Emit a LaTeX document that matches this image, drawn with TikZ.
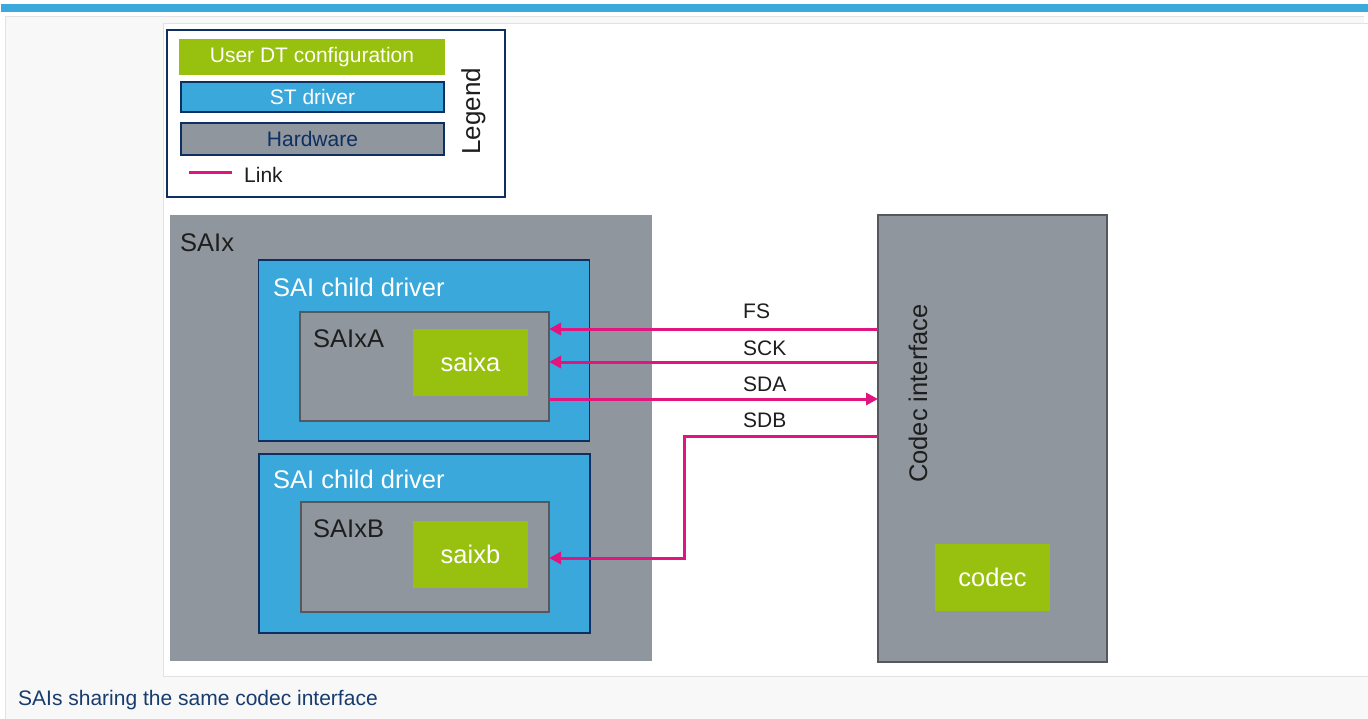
\documentclass[tikz,border=0pt]{standalone}
\usepackage{fontspec}
\setmainfont{Liberation Sans}
\usetikzlibrary{arrows.meta}
\definecolor{barblue}{HTML}{3BA9DC}
\definecolor{stblue}{HTML}{3AA8DB}
\definecolor{hwgray}{HTML}{8F969E}
\definecolor{dtgreen}{HTML}{98C00E}
\definecolor{linkmag}{HTML}{E0157F}
\definecolor{navy}{HTML}{0E2F62}
\definecolor{darkgr}{HTML}{55595E}
\definecolor{pagebg}{HTML}{F8F8F8}
\definecolor{framegr}{HTML}{E2E2E2}
\definecolor{captc}{HTML}{183C6E}
\definecolor{txtdark}{HTML}{1E1E1E}
\tikzset{
  box/.style={rectangle, inner sep=0pt, outer sep=0pt},
  hwbox/.style={box, fill=hwgray, draw=darkgr, line width=1.5pt},
  drvbox/.style={box, fill=stblue, draw=navy, line width=1.5pt},
  dtbox/.style={box, fill=dtgreen},
  wtext/.style={inner sep=0pt, text=white, font=\fontsize{25.5}{30}\selectfont},
  dtext/.style={inner sep=0pt, text=txtdark, font=\fontsize{25.5}{30}\selectfont},
  sigtext/.style={inner sep=0pt, anchor=base west, text=txtdark, font=\fontsize{21}{25}\selectfont},
  legtext/.style={inner sep=0pt, font=\fontsize{21}{25}\selectfont},
  link/.style={draw=linkmag, line width=3pt},
  linkarrow/.style={link, -{Triangle[length=12pt,width=12pt]}},
}
\begin{document}
\begin{tikzpicture}[x=1pt,y=-1pt]
\useasboundingbox (0,0) rectangle (1368,719);
\fill[white] (0,0) rectangle (1368,719);
% page frame
\draw[fill=pagebg, draw=framegr, line width=1pt] (5,17) rectangle (1380,730);
\fill[white] (1363.5,12) rectangle (1368,23);
\fill[barblue] (1,4) rectangle (1368,12);
% white panel
\draw[fill=white, draw=framegr, line width=1pt] (163,24) rectangle (1380,676);

% legend
\node[box, draw=navy, line width=2.5pt, fill=white, minimum width=338pt, minimum height=167pt] (legend) at (336,113.5) {};
\node[dtbox, minimum width=266pt, minimum height=36pt] (legdt) at (312,57) {};
\node[legtext, text=white] (legdtt) at (legdt) {User DT configuration};
\node[drvbox, minimum width=263pt, minimum height=30pt] (legst) at (312.5,97) {};
\node[legtext, text=white] (legstt) at (legst) {ST driver};
\node[hwbox, draw=navy, minimum width=263pt, minimum height=32pt] (leghw) at (312.5,139) {};
\node[legtext, text=navy] (leghwt) at (leghw) {Hardware};
\coordinate (lk1) at (189,173);
\coordinate (lk2) at (232,173);
\draw[link] (lk1) -- (lk2);
\node[legtext, anchor=base west, text=txtdark] (linkt) at (244,183) {Link};
\node[inner sep=0pt, rotate=90, anchor=base west, text=txtdark, font=\fontsize{26}{30}\selectfont] (legt) at (480,155) {Legend};

% SAIx
\node[box, fill=hwgray, minimum width=482pt, minimum height=446pt] (saix) at (411,438) {};
\node[dtext, anchor=base west] (saixt) at (180,252) {SAIx};

% child driver A
\node[drvbox, minimum width=331pt, minimum height=181pt] (drvA) at (424,350.5) {};
\node[wtext, anchor=base west] (drvAt) at (273,297) {SAI child driver};
\node[hwbox, minimum width=249pt, minimum height=109pt] (saiA) at (424.5,366.5) {};
\node[dtext, anchor=base west] (saiAt) at (313,347) {SAIxA};
\node[dtbox, minimum width=115pt, minimum height=67pt] (saixa) at (470.5,362.5) {};
\node[wtext] (saixat) at (saixa) {saixa};

% child driver B
\node[drvbox, minimum width=331pt, minimum height=179pt] (drvB) at (424.5,543.5) {};
\node[wtext, anchor=base west] (drvBt) at (273,488) {SAI child driver};
\node[hwbox, minimum width=248pt, minimum height=110pt] (saiB) at (425,557) {};
\node[dtext, anchor=base west] (saiBt) at (313,537) {SAIxB};
\node[dtbox, minimum width=115pt, minimum height=67pt] (saixb) at (470.5,554.5) {};
\node[wtext] (saixbt) at (saixb) {saixb};

% codec
\node[hwbox, line width=2pt, minimum width=229pt, minimum height=447pt] (codec) at (992.5,438.5) {};
\node[dtext, rotate=90, anchor=base west] (codect) at (927,483) {Codec interface};
\node[dtbox, minimum width=115pt, minimum height=67pt] (codecg) at (992.5,577.5) {};
\node[wtext] (codecgt) at (codecg) {codec};

% signal levels
\coordinate (yFS) at (0,329);
\coordinate (ySCK) at (0,362);
\coordinate (ySDA) at (0,399);
\coordinate (ySDB) at (0,436);
\coordinate (ySDBb) at (0,558);
\coordinate (xSDB) at (684,0);

\draw[linkarrow] (codec.west |- yFS) -- (saiA.east |- yFS);
\draw[linkarrow] (codec.west |- ySCK) -- (saiA.east |- ySCK);
\draw[linkarrow] (saiA.east |- ySDA) -- (codec.west |- ySDA);
\draw[linkarrow] (codec.west |- ySDB) -- (xSDB |- ySDB) -- (xSDB |- ySDBb) -- (saiB.east |- ySDBb);

\node[sigtext] (fst) at (743,319) {FS};
\node[sigtext] (sckt) at (743,355) {SCK};
\node[sigtext] (sdat) at (743,391) {SDA};
\node[sigtext] (sdbt) at (743,427) {SDB};

% caption
\node[inner sep=0pt, anchor=base west, text=captc, font=\fontsize{21}{25}\selectfont] (capt) at (18,705) {SAIs sharing the same codec interface};
\end{tikzpicture}
\end{document}
